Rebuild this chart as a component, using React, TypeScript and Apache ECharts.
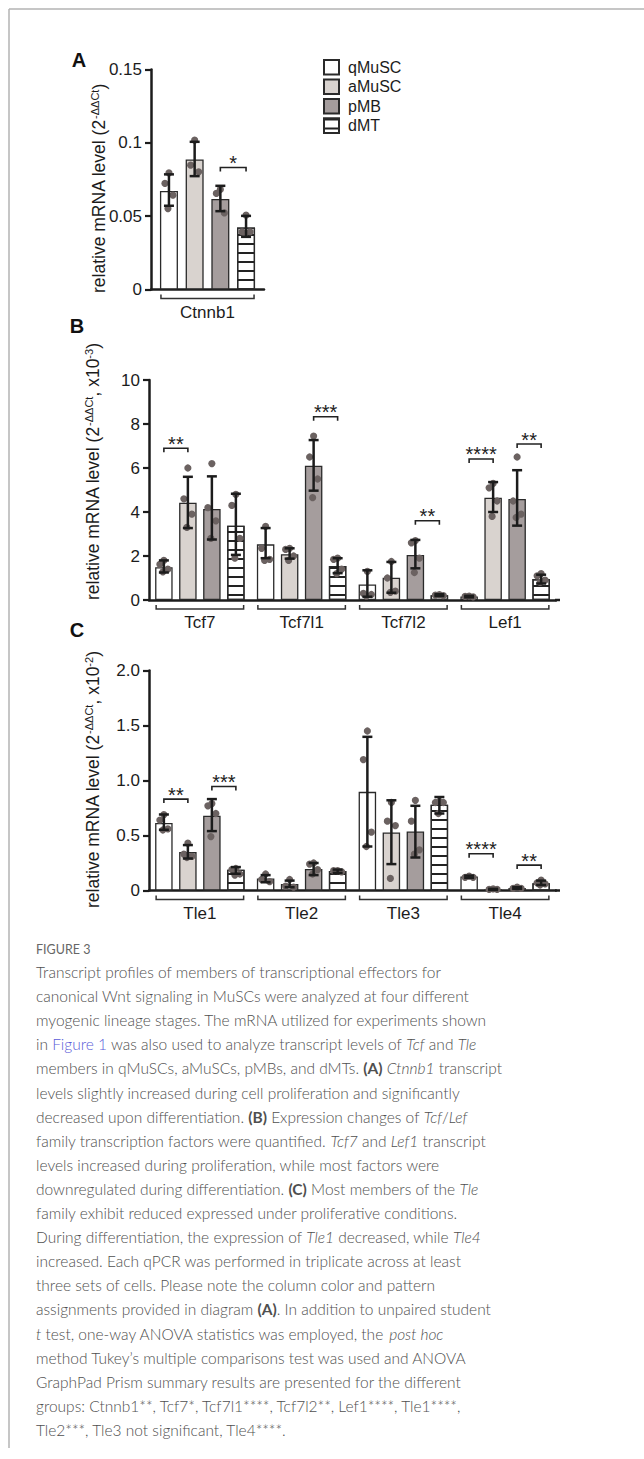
import React, { useEffect, useRef } from 'react';
import * as echarts from 'echarts';

// ---------------- DATA ----------------
const GROUPS = ['qMuSC', 'aMuSC', 'pMB', 'dMT'];

const A_CATS = ['Ctnnb1'];
const A_TICK_LABELS = ['0', '0.05', '0.1', '0.15'];
const A_MEAN = [[0.0672], [0.0886], [0.0617], [0.0423]];
const A_LO = [[0.0571], [0.0773], [0.0534], [0.0359]];
const A_HI = [[0.0785], [0.1007], [0.0707], [0.0502]];
const A_DOTS = [
  [[0.0795, 0.0723, 0.0643, 0.0552]],
  [[0.1018, 0.0848, 0.0802]],
  [[0.0682, 0.0655, 0.0522]],
  [[0.0507, 0.0393, 0.0393, 0.0382]],
];
const A_SIG: [number, number, number, number, string][] = [[0, 2, 3, 0.0832, '*']];

const B_CATS = ['Tcf7', 'Tcf7l1', 'Tcf7l2', 'Lef1'];
const B_TICK_LABELS = ['0', '2', '4', '6', '8', '10'];
const B_MEAN = [
  [1.49, 2.53, 0.71, 0.16],
  [4.42, 2.08, 1.01, 4.65],
  [4.14, 6.1, 2.05, 4.59],
  [3.38, 1.55, 0.22, 0.95],
];
const B_LO = [
  [1.25, 1.9, 0.15, 0.12],
  [3.27, 1.88, 0.33, 4.0],
  [2.75, 4.97, 1.44, 3.38],
  [2.05, 1.22, 0.18, 0.75],
];
const B_HI = [
  [1.8, 3.27, 1.35, 0.19],
  [5.6, 2.35, 1.73, 5.36],
  [5.62, 7.27, 2.73, 5.9],
  [4.83, 1.9, 0.26, 1.15],
];
const B_DOTS = [
  [[1.8, 1.62, 1.4, 1.28], [3.35, 2.35, 1.85, 1.8], [1.3, 0.3, 0.25, 0.18], [0.18, 0.16, 0.14]],
  [[6.0, 4.6, 3.9, 3.3], [2.35, 2.3, 2.0, 1.8], [1.75, 1.0, 0.4, 0.35], [5.3, 5.1, 4.5, 3.8]],
  [[6.2, 4.2, 3.6, 2.8], [7.45, 6.5, 5.5, 4.65], [2.7, 2.6, 1.9, 1.25], [6.5, 4.5, 3.9, 3.75]],
  [[4.8, 4.3, 2.8, 1.9], [1.9, 1.85, 1.4, 1.2], [0.24, 0.22, 0.2], [1.2, 1.1, 0.9, 0.8]],
];
const B_SIG: [number, number, number, number, string][] = [
  [0, 0, 1, 6.9, '**'],
  [1, 2, 3, 8.33, '***'],
  [2, 2, 3, 3.6, '**'],
  [3, 0, 1, 6.41, '****'],
  [3, 2, 3, 7.09, '**'],
];

const C_CATS = ['Tle1', 'Tle2', 'Tle3', 'Tle4'];
const C_TICK_LABELS = ['0', '0.5', '1.0', '1.5', '2.0'];
const C_MEAN = [
  [0.613, 0.109, 0.897, 0.127],
  [0.349, 0.06, 0.527, 0.012],
  [0.679, 0.195, 0.536, 0.022],
  [0.188, 0.178, 0.779, 0.067],
];
const C_LO = [
  [0.552, 0.075, 0.4, 0.115],
  [0.291, 0.03, 0.24, 0.005],
  [0.54, 0.14, 0.3, 0.015],
  [0.152, 0.16, 0.7, 0.05],
];
const C_HI = [
  [0.691, 0.14, 1.397, 0.135],
  [0.413, 0.09, 0.82, 0.015],
  [0.831, 0.25, 0.77, 0.03],
  [0.213, 0.19, 0.85, 0.09],
];
const C_DOTS = [
  [[0.69, 0.64, 0.56, 0.55], [0.15, 0.1, 0.08], [1.45, 1.19, 0.53, 0.4], [0.13, 0.12, 0.12]],
  [[0.43, 0.33, 0.31, 0.3], [0.1, 0.04, 0.03], [0.8, 0.63, 0.59, 0.11], [0.015, 0.01, 0.01]],
  [[0.79, 0.77, 0.7, 0.49], [0.25, 0.24, 0.19, 0.15], [0.82, 0.63, 0.37, 0.33], [0.03, 0.02, 0.02]],
  [[0.2, 0.19, 0.15, 0.14], [0.18, 0.18, 0.17], [0.81, 0.8, 0.8, 0.7], [0.095, 0.07, 0.06, 0.05]],
];
const C_SIG: [number, number, number, number, string][] = [
  [0, 0, 1, 0.831, '**'],
  [0, 2, 3, 0.945, '***'],
  [3, 0, 1, 0.334, '****'],
  [3, 2, 3, 0.231, '**'],
];

const CAPTION_TITLE = 'FIGURE 3';
const CAPTION_LINES = [
  'Transcript profiles of members of transcriptional effectors for',
  'canonical Wnt signaling in MuSCs were analyzed at four different',
  'myogenic lineage stages. The mRNA utilized for experiments shown',
  'in {l|Figure 1} was also used to analyze transcript levels of {i|Tcf} and {i|Tle}',
  'members in qMuSCs, aMuSCs, pMBs, and dMTs. {b|(A)} {i|Ctnnb1} transcript',
  'levels slightly increased during cell proliferation and significantly',
  'decreased upon differentiation. {b|(B)} Expression changes of {i|Tcf}/{i|Lef}',
  'family transcription factors were quantified. {i|Tcf7} and {i|Lef1} transcript',
  'levels increased during proliferation, while most factors were',
  'downregulated during differentiation. {b|(C)} Most members of the {i|Tle}',
  'family exhibit reduced expressed under proliferative conditions.',
  'During differentiation, the expression of {i|Tle1} decreased, while {i|Tle4}',
  'increased. Each qPCR was performed in triplicate across at least',
  'three sets of cells. Please note the column color and pattern',
  'assignments provided in diagram {b|(A)}. In addition to unpaired student',
  '{i|t} test, one-way ANOVA statistics was employed, the {i|post hoc}',
  'method Tukey\u2019s multiple comparisons test was used and ANOVA',
  'GraphPad Prism summary results are presented for the different',
  'groups: Ctnnb1**, Tcf7*, Tcf7l1****, Tcf7l2**, Lef1****, Tle1****,',
  'Tle2***, Tle3 not significant, Tle4****.',
];

// ---------------- STYLE ----------------
const FONT = '"Liberation Sans", Arial, Helvetica, sans-serif';
const CAP_FONT = 'Lato, "Open Sans", sans-serif';
const INK = '#1c1c1c';
const FILLS = ['#ffffff', '#d9d3cf', '#a59d9d', '#ffffff'];
const DOT = '#6b6261';
const JITTER = [0, -4, 4, -1, 2];

type Panel = {
  cats: string[];
  ticks: string[];
  mean: number[][];
  lo: number[][];
  hi: number[][];
  dots: number[][][];
  sig: [number, number, number, number, string][];
  max: number;
  step: number;
  grid: { left: number; top: number; width: number; height: number };
  bw: number;
  gap: number;
  axisExtra: number;
};

const PANELS: Panel[] = [
  { cats: A_CATS, ticks: A_TICK_LABELS, mean: A_MEAN, lo: A_LO, hi: A_HI, dots: A_DOTS, sig: A_SIG,
    max: 0.15, step: 0.05, grid: { left: 151, top: 69.5, width: 113, height: 220 }, bw: 18, gap: 7.7, axisExtra: 0 },
  { cats: B_CATS, ticks: B_TICK_LABELS, mean: B_MEAN, lo: B_LO, hi: B_HI, dots: B_DOTS, sig: B_SIG,
    max: 10, step: 2, grid: { left: 149, top: 380, width: 407, height: 220 }, bw: 17.5, gap: 6.5, axisExtra: 4 },
  { cats: C_CATS, ticks: C_TICK_LABELS, mean: C_MEAN, lo: C_LO, hi: C_HI, dots: C_DOTS, sig: C_SIG,
    max: 2, step: 0.5, grid: { left: 149, top: 670.5, width: 407, height: 220 }, bw: 17.5, gap: 6.5, axisExtra: 4 },
];

function barOffset(g: number, bw: number, gap: number) {
  const total = 4 * bw + 3 * gap;
  return -total / 2 + g * (bw + gap) + bw / 2;
}

function buildOption() {
  const grids: any[] = [];
  const xAxes: any[] = [];
  const yAxes: any[] = [];
  const series: any[] = [];

  PANELS.forEach((p, pi) => {
    grids.push({ ...p.grid, containLabel: false });
    xAxes.push({
      type: 'category', gridIndex: pi, data: p.cats, boundaryGap: true,
      axisLine: { show: true, lineStyle: { color: INK, width: 2.5 } },
      axisTick: { show: false },
      axisLabel: { fontSize: 17, fontFamily: FONT, color: INK, margin: 14 },
      splitLine: { show: false },
    });
    yAxes.push({
      type: 'value', gridIndex: pi, min: 0, max: p.max, interval: p.step,
      axisLine: { show: true, lineStyle: { color: INK, width: 2.5 } },
      axisTick: { show: true, length: 6, lineStyle: { color: INK, width: 2.2 } },
      axisLabel: {
        fontSize: 17, fontFamily: FONT, color: INK, margin: 9,
        formatter: (_v: number, i: number) => p.ticks[i],
      },
      splitLine: { show: false },
    });

    GROUPS.forEach((name, g) => {
      const itemStyle: any = { color: FILLS[g], borderColor: '#2a2a2a', borderWidth: 1.3 };
      if (g === 3) {
        itemStyle.decal = {
          symbol: 'rect', symbolSize: 1, symbolKeepAspect: false, color: '#222',
          dashArrayX: [[20, 0]], dashArrayY: [1.5, 7], rotation: 0,
        };
      }
      series.push({
        type: 'bar', name, xAxisIndex: pi, yAxisIndex: pi,
        barWidth: p.bw, barGap: `${(p.gap / p.bw) * 100}%`,
        data: p.mean[g], itemStyle, z: 2, silent: true,
      });
    });

    // dots
    const dotData: number[][] = [];
    p.dots.forEach((byCat, g) => byCat.forEach((vals, c) => vals.forEach((v, k) => dotData.push([c, g, v, k]))));
    series.push({
      type: 'custom', xAxisIndex: pi, yAxisIndex: pi, z: 3, silent: true,
      data: dotData,
      renderItem: (_params: any, api: any) => {
        const c = api.value(0), g = api.value(1), v = api.value(2), k = api.value(3);
        const pt = api.coord([c, v]);
        return {
          type: 'circle',
          shape: { cx: pt[0] + barOffset(g, p.bw, p.gap) + JITTER[k % JITTER.length], cy: pt[1], r: 3.6 },
          style: { fill: DOT },
        };
      },
    });

    // error bars
    const errData: number[][] = [];
    p.lo.forEach((byCat, g) => byCat.forEach((lo, c) => errData.push([c, g, lo, p.hi[g][c]])));
    series.push({
      type: 'custom', xAxisIndex: pi, yAxisIndex: pi, z: 4, silent: true,
      data: errData,
      renderItem: (_params: any, api: any) => {
        const c = api.value(0), g = api.value(1);
        const a = api.coord([c, api.value(2)]);
        const b = api.coord([c, api.value(3)]);
        const x = a[0] + barOffset(g, p.bw, p.gap);
        const st = { stroke: INK, lineWidth: 2.5 };
        return {
          type: 'group',
          children: [
            { type: 'line', shape: { x1: x, y1: a[1], x2: x, y2: b[1] }, style: st },
            { type: 'line', shape: { x1: x - 5, y1: a[1], x2: x + 5, y2: a[1] }, style: st },
            { type: 'line', shape: { x1: x - 5, y1: b[1], x2: x + 5, y2: b[1] }, style: st },
          ],
        };
      },
    });

    // group brackets under axis (and a slight extension of the x axis line on the right)
    series.push({
      type: 'custom', xAxisIndex: pi, yAxisIndex: pi, z: 4, silent: true,
      data: p.cats.map((_c, i) => [i, 0]),
      renderItem: (params: any, api: any) => {
        const pt = api.coord([api.value(0), 0]);
        const half = (4 * p.bw + 3 * p.gap) / 2 - 1;
        const y = pt[1] + 9;
        const children: any[] = [
          {
            type: 'polyline',
            shape: { points: [[pt[0] - half, y - 4], [pt[0] - half, y], [pt[0] + half, y], [pt[0] + half, y - 4]] },
            style: { stroke: '#333', lineWidth: 1.5, fill: 'none' },
          },
        ];
        if (params.dataIndex === p.cats.length - 1 && p.axisExtra > 0) {
          const xe = pt[0] + api.size([1, 0])[0] / 2;
          children.push({
            type: 'line', shape: { x1: xe - 1, y1: pt[1], x2: xe + p.axisExtra, y2: pt[1] },
            style: { stroke: INK, lineWidth: 2.5 },
          });
        }
        return { type: 'group', children };
      },
    });

    // significance brackets
    series.push({
      type: 'custom', xAxisIndex: pi, yAxisIndex: pi, z: 4, silent: true,
      data: p.sig.map((s) => [s[0], s[1], s[2], s[3]]),
      renderItem: (params: any, api: any) => {
        const c = api.value(0);
        const pt = api.coord([c, api.value(3)]);
        const x1 = pt[0] + barOffset(api.value(1), p.bw, p.gap);
        const x2 = pt[0] + barOffset(api.value(2), p.bw, p.gap);
        const y = pt[1];
        return {
          type: 'group',
          children: [
            {
              type: 'polyline',
              shape: { points: [[x1, y + 4], [x1, y], [x2, y], [x2, y + 4]] },
              style: { stroke: '#222', lineWidth: 1.6, fill: 'none' },
            },
            {
              type: 'text', x: (x1 + x2) / 2, y: y - 4.5,
              style: {
                text: p.sig[params.dataIndex][4], fill: '#222', fontSize: 20, fontFamily: FONT,
                align: 'center', verticalAlign: 'middle',
              },
            },
          ],
        };
      },
    });
  });

  const supRich = {
    n: { fontSize: 17.5, fontFamily: FONT, fill: INK, color: INK, lineHeight: 20 },
    s: { fontSize: 11, fontFamily: FONT, fill: INK, color: INK, verticalAlign: 'top', lineHeight: 20 },
  };

  const graphic: any[] = [
    { type: 'line', shape: { x1: 9, y1: 9, x2: 644, y2: 9 }, style: { stroke: '#b3b3b3', lineWidth: 1.5 } },
    { type: 'line', shape: { x1: 9, y1: 9, x2: 9, y2: 1448 }, style: { stroke: '#b3b3b3', lineWidth: 1.5 } },
    { type: 'text', x: 79, y: 60, style: { text: 'A', fontSize: 20, fontWeight: 'bold', fontFamily: FONT, fill: '#111', align: 'center', verticalAlign: 'middle' } },
    { type: 'text', x: 77, y: 326, style: { text: 'B', fontSize: 20, fontWeight: 'bold', fontFamily: FONT, fill: '#111', align: 'center', verticalAlign: 'middle' } },
    { type: 'text', x: 77, y: 630, style: { text: 'C', fontSize: 20, fontWeight: 'bold', fontFamily: FONT, fill: '#111', align: 'center', verticalAlign: 'middle' } },
    {
      type: 'text', x: 99, y: 293, rotation: Math.PI / 2,
      style: { text: '{n|relative mRNA level (2}{s|-\u0394\u0394Ct}{n|)}', rich: supRich, align: 'left', verticalAlign: 'middle' },
    },
    {
      type: 'text', x: 93, y: 600, rotation: Math.PI / 2,
      style: { text: '{n|relative mRNA level (2}{s|-\u0394\u0394Ct}{n|, x10}{s|-3}{n|)}', rich: supRich, align: 'left', verticalAlign: 'middle' },
    },
    {
      type: 'text', x: 93, y: 908, rotation: Math.PI / 2,
      style: { text: '{n|relative mRNA level (2}{s|-\u0394\u0394Ct}{n|, x10}{s|-2}{n|)}', rich: supRich, align: 'left', verticalAlign: 'middle' },
    },
    {
      type: 'text', x: 36, y: 949,
      style: { text: CAPTION_TITLE, fontSize: 12.5, fontFamily: CAP_FONT, fill: '#666', align: 'left', verticalAlign: 'middle' },
    },
  ];

  const capBase = { fontSize: 15.5, fontFamily: CAP_FONT, fill: '#4f4f4f', fontWeight: 300 };
  const capRich = {
    t: { ...capBase },
    i: { ...capBase, fontStyle: 'italic' },
    b: { ...capBase, fontWeight: 'bold' },
    l: { ...capBase, fill: '#5a5ad8' },
  };
  CAPTION_LINES.forEach((line, i) => {
    const text = line.replace(/(^|\})([^{}]+)(?=\{|$)/g, (_m, pre, body) => `${pre}{t|${body}}`);
    graphic.push({
      type: 'text', x: 36, y: 972 + i * 24.1,
      style: { text, rich: capRich, align: 'left', verticalAlign: 'middle' },
    });
  });

  return {
    animation: false,
    backgroundColor: '#ffffff',
    grid: grids,
    xAxis: xAxes,
    yAxis: yAxes,
    legend: {
      data: GROUPS, orient: 'vertical', left: 323, top: 59, padding: 0,
      itemWidth: 15, itemHeight: 14.5, itemGap: 3, icon: 'rect', selectedMode: false,
      textStyle: { fontSize: 16, fontFamily: FONT, color: INK, padding: [0, 0, 0, 4] },
    },
    series,
    graphic,
  };
}

export default function App() {
  const ref = useRef<HTMLDivElement>(null);
  useEffect(() => {
    if (!ref.current) return;
    const chart = echarts.init(ref.current, undefined, { renderer: 'svg' });
    chart.setOption(buildOption() as any);
    return () => chart.dispose();
  }, []);
  return (
    <div
      ref={ref}
      style={{ position: 'absolute', left: 0, top: 0, width: 644, height: 1459, background: '#fff' }}
    />
  );
}
